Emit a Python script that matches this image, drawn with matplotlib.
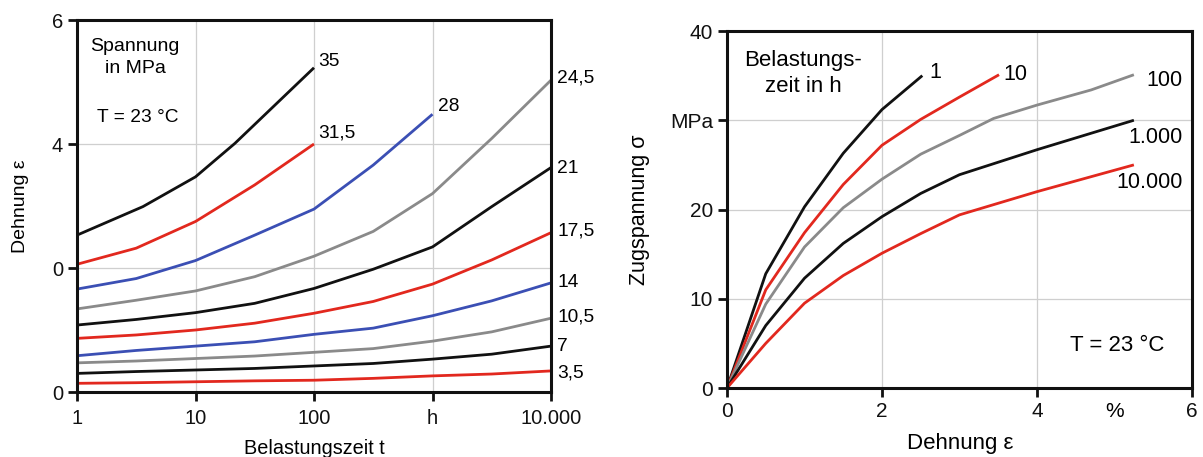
# Kriechkurven: Dehnung ueber Belastungszeit und isochrone Spannungs-Dehnungs-Kurven
import matplotlib
matplotlib.use("Agg")
import matplotlib.pyplot as plt
from matplotlib.ticker import FixedLocator, NullLocator

plt.rcParams["font.family"] = ["Liberation Sans", "DejaVu Sans"]

BLACK = "#111111"
RED = "#e2281e"
BLUE = "#3b4fb4"
GRAY = "#8a8a8a"
GRID = "#cfcfcf"

# ---- left chart: strain vs. loading time, one curve per stress (MPa)
t_left = [1, 3.16, 10, 31.6, 100, 316, 1000, 3162, 10000]
t_35 = [1, 3.6, 10, 21.5, 100]
eps_3_5 = [0.14, 0.15, 0.165, 0.18, 0.19, 0.22, 0.26, 0.29, 0.34]
eps_7 = [0.30, 0.33, 0.355, 0.38, 0.42, 0.46, 0.53, 0.61, 0.74]
eps_10_5 = [0.47, 0.50, 0.54, 0.58, 0.64, 0.70, 0.82, 0.97, 1.19]
eps_14 = [0.585, 0.67, 0.74, 0.81, 0.93, 1.03, 1.23, 1.47, 1.76]
eps_17_5 = [0.865, 0.92, 1.0, 1.11, 1.27, 1.46, 1.74, 2.13, 2.57]
eps_21 = [1.08, 1.17, 1.28, 1.43, 1.67, 1.98, 2.34, 2.99, 3.62]
eps_24_5 = [1.34, 1.48, 1.63, 1.86, 2.19, 2.59, 3.20, 4.09, 5.03]
eps_28 = [1.66, 1.83, 2.12, 2.53, 2.95, 3.66, 4.48]
eps_31_5 = [2.06, 2.32, 2.75, 3.34, 4.0]
eps_35 = [2.53, 2.99, 3.47, 4.01, 5.23]

left_series = [
    (t_left, eps_3_5, RED), (t_left, eps_7, BLACK), (t_left, eps_10_5, GRAY),
    (t_left, eps_14, BLUE), (t_left, eps_17_5, RED), (t_left, eps_21, BLACK),
    (t_left, eps_24_5, GRAY), (t_left, eps_28, BLUE), (t_left, eps_31_5, RED),
    (t_35, eps_35, BLACK),
]
left_yticks = [0, 2, 4, 6]
left_ylabels = ["0", "0", "4", "6"]
left_xticks = [1, 10, 100, 1000, 10000]
left_xlabels = ["1", "10", "100", "h", "10.000"]
# curve labels: text, x, y
left_labels = [("35", 108, 5.33), ("31,5", 108, 4.18), ("28", 1112, 4.6),
               ("24,5", 11250, 5.06), ("21", 11250, 3.61), ("17,5", 11250, 2.59),
               ("14", 11250, 1.76), ("10,5", 11250, 1.21), ("7", 11250, 0.73),
               ("3,5", 11250, 0.31)]

# ---- right chart: isochronous stress-strain curves, loading time in h
x_1 = [0, 0.5, 1, 1.5, 2, 2.52]
s_1 = [0, 12.8, 20.3, 26.3, 31.2, 35.0]
x_10 = [0, 0.5, 1, 1.5, 2, 2.5, 3, 3.51]
s_10 = [0, 11.0, 17.4, 22.8, 27.2, 30.1, 32.6, 35.1]
x_100 = [0, 0.5, 1, 1.5, 2, 2.5, 3, 3.44, 4, 4.7, 5.25]
s_100 = [0, 9.4, 15.8, 20.2, 23.4, 26.2, 28.3, 30.2, 31.7, 33.4, 35.1]
x_1000 = [0, 0.5, 1, 1.5, 2, 2.5, 3, 4, 5.25]
s_1000 = [0, 7.0, 12.3, 16.2, 19.2, 21.8, 23.9, 26.7, 30.0]
x_10000 = [0, 0.5, 1, 1.5, 2, 2.5, 3, 4, 5.25]
s_10000 = [0, 5.0, 9.5, 12.6, 15.1, 17.3, 19.4, 22.0, 25.0]

right_series = [
    (x_1, s_1, BLACK), (x_10, s_10, RED), (x_100, s_100, GRAY),
    (x_1000, s_1000, BLACK), (x_10000, s_10000, RED),
]
right_yticks = [0, 10, 20, 30, 40]
right_ylabels = ["0", "10", "20", "MPa", "40"]
right_xticks = [0, 2, 4, 6]
right_labels = [("1", 2.61, 35.4, "left"), ("10", 3.57, 35.1, "left"),
                ("100", 5.88, 34.5, "right"), ("1.000", 5.88, 28.1, "right"),
                ("10.000", 5.88, 23.0, "right")]


def style_axes(ax, size):
    for sp in ax.spines.values():
        sp.set_linewidth(2.2)
        sp.set_color(BLACK)
    ax.tick_params(which="major", direction="out", length=6.5, width=2,
                   labelsize=size, pad=3.5, colors=BLACK)
    ax.grid(True, which="major", color=GRID, linewidth=0.9)
    ax.set_axisbelow(True)


fig = plt.figure(figsize=(12.03, 4.57), dpi=100)

# left
ax1 = fig.add_axes([77 / 1203, 65 / 457, 474 / 1203, 372 / 457])
for ts, vals, col in left_series:
    ax1.plot(ts[:len(vals)], vals, color=col, lw=2.0, solid_capstyle="butt")
ax1.set_xscale("log")
ax1.set_xlim(1, 10000)
ax1.set_ylim(0, 6)
ax1.xaxis.set_major_locator(FixedLocator(left_xticks))
ax1.xaxis.set_minor_locator(NullLocator())
ax1.set_xticklabels(left_xlabels)
ax1.set_yticks(left_yticks)
ax1.set_yticklabels(left_ylabels)
style_axes(ax1, 14.5)
ax1.tick_params(axis="x", pad=6)

for lab, xv, yv in left_labels:
    ax1.text(xv, yv, lab, fontsize=13.8, va="center", clip_on=False)

ax1.text(3.09, 5.4, "Spannung\nin MPa", fontsize=14, ha="center", va="center",
         linespacing=1.4)
ax1.text(3.24, 4.435, "T = 23 °C", fontsize=13.8, ha="center", va="center")
fig.text(21 / 1203, 1 - 206 / 457, "Dehnung ε", rotation=90, fontsize=14,
         ha="center", va="center")
fig.text(314 / 1203, 1 - 449 / 457, "Belastungszeit t", fontsize=14.3,
         ha="center", va="center")

# right
ax2 = fig.add_axes([727 / 1203, 69 / 457, 465 / 1203, 357 / 457])
for xs, ys, col in right_series:
    ax2.plot(xs, ys, color=col, lw=2.0, solid_capstyle="butt")
ax2.set_xlim(0, 6)
ax2.set_ylim(0, 40)
ax2.set_xticks(right_xticks)
ax2.set_xticks([5], minor=True)
ax2.set_xticklabels(["%"], minor=True)
ax2.set_yticks(right_yticks)
ax2.set_yticklabels(right_ylabels)
style_axes(ax2, 15)
ax2.tick_params(axis="x", which="minor", length=0, labelsize=15, pad=10)

for lab, xv, yv, ha in right_labels:
    ax2.text(xv, yv, lab, fontsize=15.5, ha=ha, va="center")

ax2.text(0.98, 35.2, "Belastungs-\nzeit in h", fontsize=16, ha="center",
         va="center", linespacing=1.3)
ax2.text(4.43, 4.8, "T = 23 °C", fontsize=16, va="center")
fig.text(640 / 1203, 1 - 210 / 457, "Zugspannung σ", rotation=90, fontsize=15.5,
         ha="center", va="center")
fig.text(960 / 1203, 1 - 443 / 457, "Dehnung ε", fontsize=16,
         ha="center", va="center")

fig.savefig("out.png", dpi=100)
